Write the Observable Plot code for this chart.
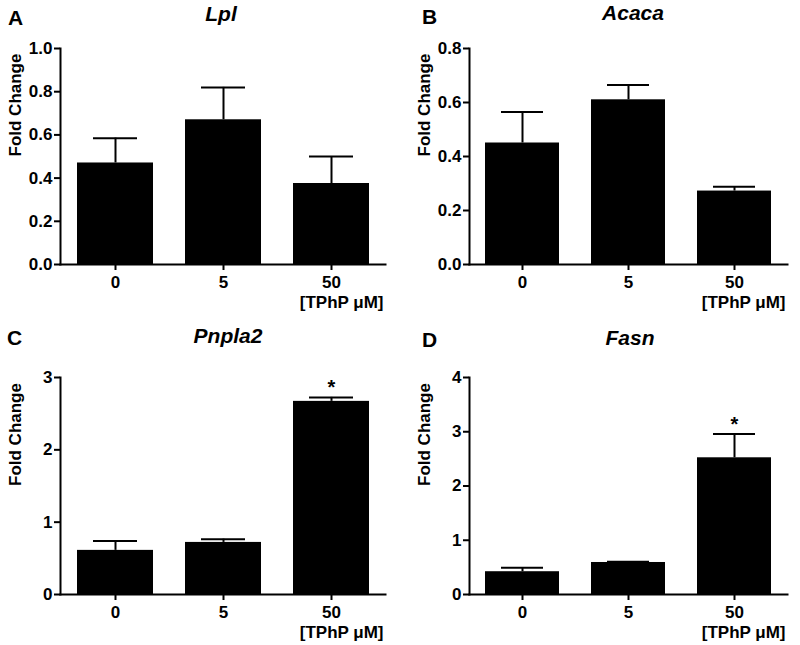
<!DOCTYPE html>
<html>
<head>
<meta charset="utf-8">
<script src="https://cdn.jsdelivr.net/npm/d3@7"></script>
<script src="https://cdn.jsdelivr.net/npm/@observablehq/plot@0.6"></script>
<style>
  body { margin: 0; background: white; }
  #wrap { position: relative; width: 800px; height: 645px; font-family: "Liberation Sans", Arial, sans-serif; color: black; }
  .panel { position: absolute; }
  .letter { position: absolute; font-size: 21px; font-weight: bold; line-height: 21px; }
  .title { position: absolute; font-size: 21px; font-weight: bold; font-style: italic; line-height: 21px; width: 300px; text-align: center; }
</style>
</head>
<body>
<div id="wrap"></div>
<script>
// ---- data ----
const doses = ["0", "5", "50"];
const genes = ["Lpl", "Acaca", "Pnpla2", "Fasn"];
const letters = ["A", "B", "C", "D"];
const lplMean = [0.47, 0.67, 0.375];
const lplSem = [0.115, 0.15, 0.125];
const acacaMean = [0.45, 0.61, 0.272];
const acacaSem = [0.115, 0.055, 0.016];
const pnpla2Mean = [0.61, 0.72, 2.67];
const pnpla2Sem = [0.13, 0.045, 0.055];
const fasnMean = [0.42, 0.59, 2.52];
const fasnSem = [0.075, 0.015, 0.44];
const lplSig = ["", "", ""];
const acacaSig = ["", "", ""];
const pnpla2Sig = ["", "", "*"];
const fasnSig = ["", "", "*"];
const lplTicks = [0, 0.2, 0.4, 0.6, 0.8, 1.0];
const acacaTicks = [0, 0.2, 0.4, 0.6, 0.8];
const pnpla2Ticks = [0, 1, 2, 3];
const fasnTicks = [0, 1, 2, 3, 4];
const yLabel = "Fold Change";
const xLabel = "[TPhP μM]";

const panels = [
  {gene: genes[0], letter: letters[0], mean: lplMean, sem: lplSem, sig: lplSig, ticks: lplTicks, fmt: d3.format(".1f"),
   left: 0, top: 0, height: 320, mL: 60, mR: 15, mT: 48, mB: 56, titleX: 221, titleTop: 3, letterX: 8, letterTop: 7},
  {gene: genes[1], letter: letters[1], mean: acacaMean, sem: acacaSem, sig: acacaSig, ticks: acacaTicks, fmt: d3.format(".1f"),
   left: 400, top: 0, height: 320, mL: 69, mR: 13, mT: 48, mB: 56, titleX: 633, titleTop: 2, letterX: 422, letterTop: 6},
  {gene: genes[2], letter: letters[2], mean: pnpla2Mean, sem: pnpla2Sem, sig: pnpla2Sig, ticks: pnpla2Ticks, fmt: d3.format("d"),
   left: 0, top: 320, height: 325, mL: 60, mR: 15, mT: 57, mB: 51, titleX: 228, titleTop: 325, letterX: 7, letterTop: 327},
  {gene: genes[3], letter: letters[3], mean: fasnMean, sem: fasnSem, sig: fasnSig, ticks: fasnTicks, fmt: d3.format("d"),
   left: 400, top: 320, height: 325, mL: 69, mR: 13, mT: 57, mB: 51, titleX: 630, titleTop: 327, letterX: 422, letterTop: 329}
];

const wrap = document.getElementById("wrap");

for (const p of panels) {
  const rows = doses.map((d, i) => ({dose: d, mean: p.mean[i], upper: p.mean[i] + p.sem[i], sig: p.sig[i]}));
  const chart = Plot.plot({
    width: 400,
    height: p.height,
    marginLeft: p.mL,
    marginRight: p.mR,
    marginTop: p.mT,
    marginBottom: p.mB,
    style: {fontFamily: "'Liberation Sans', Arial, sans-serif", fontSize: "17px", fontWeight: "bold", color: "black", background: "white", overflow: "visible"},
    x: {domain: doses, paddingInner: 0.3, paddingOuter: 0.15, axis: null},
    y: {domain: [0, p.ticks[p.ticks.length - 1]], axis: null},
    marks: [
      Plot.barY(rows, {x: "dose", y: "mean", fill: "black"}),
      Plot.ruleX(rows, {x: "dose", y1: "mean", y2: "upper", stroke: "black", strokeWidth: 2}),
      Plot.tickY(rows, {x: "dose", y: "upper", stroke: "black", strokeWidth: 2, insetLeft: 16, insetRight: 16}),
      Plot.text(rows, {x: "dose", y: "upper", text: "sig", dy: -3, lineAnchor: "bottom", fontSize: 20, fill: "black"}),
      Plot.axisY({ticks: p.ticks, tickFormat: p.fmt, tickSize: 6, tickPadding: 2, strokeWidth: 2, fontSize: 17, label: null}),
      Plot.axisX({tickSize: 6, tickPadding: 5, strokeWidth: 2, fontSize: 17, label: null}),
      Plot.text([yLabel], {frameAnchor: "left", rotate: -90, dx: -40, lineAnchor: "bottom", fontSize: 17, fill: "black"}),
      Plot.text([xLabel], {frameAnchor: "bottom-right", textAnchor: "end", dx: -2, dy: 43, lineAnchor: "bottom", fontSize: 17, fill: "black"}),
      Plot.frame({anchor: "left", stroke: "black", strokeWidth: 2}),
      Plot.frame({anchor: "bottom", stroke: "black", strokeWidth: 2})
    ]
  });
  const box = document.createElement("div");
  box.className = "panel";
  box.style.left = p.left + "px";
  box.style.top = p.top + "px";
  box.appendChild(chart);
  wrap.appendChild(box);

  const t = document.createElement("div");
  t.className = "title";
  t.style.left = (p.titleX - 150) + "px";
  t.style.top = p.titleTop + "px";
  t.textContent = p.gene;
  wrap.appendChild(t);

  const l = document.createElement("div");
  l.className = "letter";
  l.style.left = p.letterX + "px";
  l.style.top = p.letterTop + "px";
  l.textContent = p.letter;
  wrap.appendChild(l);
}
</script>
</body>
</html>
